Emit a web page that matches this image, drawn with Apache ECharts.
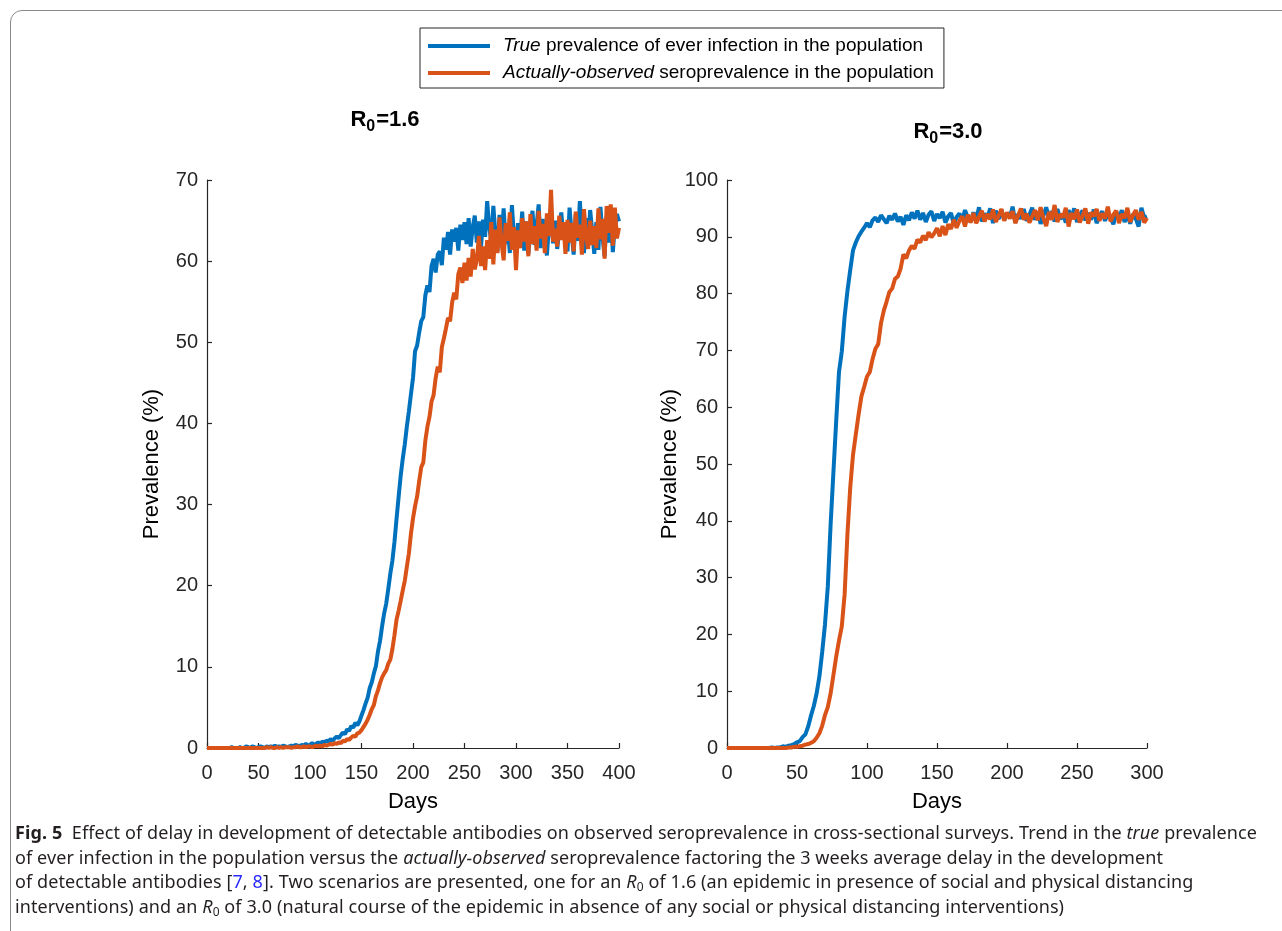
<!DOCTYPE html>
<html>
<head>
<meta charset="utf-8">
<script src="https://cdn.jsdelivr.net/npm/echarts@6/dist/echarts.min.js"></script>
<style>
  html, body { margin: 0; padding: 0; background: #fff; }
  #frame { position: absolute; left: 10px; top: 10px; width: 1320px; height: 980px;
           border: 1.5px solid #8a8a8a; border-radius: 12px; }
  #chart { position: absolute; left: 0; top: 0; width: 1282px; height: 931px; }
  #caption { position: absolute; left: 15px; top: 820px; font-family: 'Noto Sans', sans-serif;
             font-size: 18px; line-height: 24.6px; color: #231f20; letter-spacing: 0.1px; }
  #caption div { white-space: nowrap; }
  #caption a { color: #2a2aff; text-decoration: none; }
  #caption sub { font-size: 12px; vertical-align: -3px; line-height: 0; }
</style>
</head>
<body>
<div id="frame"></div>
<div id="chart"></div>
<div id="caption">
  <div><b>Fig. 5</b>&nbsp; Effect of delay in development of detectable antibodies on observed seroprevalence in cross-sectional surveys. Trend in the <i>true</i> prevalence</div>
  <div>of ever infection in the population versus the <i>actually-observed</i> seroprevalence factoring the 3 weeks average delay in the development</div>
  <div>of detectable antibodies [<a>7</a>, <a>8</a>]. Two scenarios are presented, one for an <i>R</i><sub>0</sub> of 1.6 (an epidemic in presence of social and physical distancing</div>
  <div>interventions) and an <i>R</i><sub>0</sub> of 3.0 (natural course of the epidemic in absence of any social or physical distancing interventions)</div>
</div>
<script>
// ── Data ────────────────────────────────────────────────────────────────
// one value every 2 days
const stepDays = 2;
const seriesNames = [
  'True prevalence of ever infection in the population',
  'Actually-observed seroprevalence in the population'
];

// R0 = 1.6, days 0..400
const trueR16 = [
  0,0,0,0,0,0,0,0,0,0,
  0,0,0.1,0,0,0,0.1,0,0,0.2,
  0.1,0,0.2,0.1,0,0.1,0.2,0.1,0,0.2,
  0.1,0.2,0.1,0.3,0.1,0.2,0.1,0.3,0.2,0.1,
  0.2,0.3,0.2,0.4,0.3,0.2,0.4,0.3,0.5,0.3,
  0.4,0.6,0.4,0.5,0.7,0.5,0.8,0.7,0.9,0.8,
  1.1,0.9,1.2,1.4,1.2,1.6,1.9,1.7,2.3,2.1,
  2.7,2.5,3.1,2.8,3.3,
  4.0,4.7,5.5,6.2,7.4,8.1,9.2,10.1,11.9,13.2,
  15.0,16.6,17.8,19.6,21.5,23.1,25.4,28.2,30.9,33.5,
  35.6,37.4,39.6,41.5,43.6,
  45.6,48.9,49.6,51.2,52.6,53.1,55.8,57.0,56.2,59.4,
  60.3,58.6,60.8,61.2,59.5,62.9,61.4,63.6,60.8,63.9,
  62.4,64.1,61.3,64.5,62.6,
  64.8,62.1,65.3,61.8,64.2,65.6,62.3,64.9,61.7,65.1,
  63.0,67.4,64.2,62.5,66.8,63.3,61.2,65.7,63.0,66.5,
  62.1,64.6,61.0,66.9,63.2,
  60.8,64.7,62.4,66.1,61.3,64.9,60.9,63.8,66.2,62.0,
  64.4,67.0,61.6,65.2,62.7,60.7,64.3,66.4,62.2,65.0,
  61.5,63.9,66.0,62.8,64.6,
  61.2,66.6,63.4,60.8,65.8,62.5,67.4,63.1,61.0,65.3,
  62.0,66.3,63.7,60.9,64.8,61.4,66.7,63.0,60.6,65.5,
  62.3,66.0,61.1,64.4,65.8,
  64.9
];
const observedR16 = [
  0,0,0,0,0,0,0,0,0,0,
  0,0,0,0,0,0,0,0,0,0,
  0,0,0,0,0,0,0,0,0,0.1,
  0,0.1,0,0,0.1,0,0.1,0,0.1,0.1,
  0.1,0,0.1,0.1,0.2,0.1,0.1,0.2,0.1,0.2,
  0.2,0.1,0.2,0.3,0.2,0.3,0.2,0.4,0.3,0.4,
  0.5,0.4,0.6,0.5,0.7,0.6,0.9,0.8,1.1,1.0,
  1.3,1.5,1.4,1.8,1.9,
  2.2,2.6,3.0,3.5,4.1,4.8,5.3,6.4,7.1,8.0,
  8.7,9.2,9.6,10.4,10.9,12.2,13.9,15.8,16.9,18.1,
  19.4,20.6,22.3,24.0,26.4,
  28.3,29.8,31.0,32.9,34.6,35.2,37.9,39.6,40.8,42.7,
  43.5,45.6,47.0,46.3,49.4,50.5,51.7,53.0,52.6,54.9,
  56.1,55.3,58.4,59.2,57.3,
  59.8,57.6,60.4,58.1,61.5,59.0,60.2,63.1,59.4,61.8,
  58.9,62.6,60.3,64.8,59.6,63.9,61.0,65.4,62.2,60.1,
  64.7,62.5,66.0,61.4,64.2,
  58.9,63.8,61.6,65.3,62.4,64.9,60.6,65.8,62.1,64.3,
  61.3,66.2,62.8,64.6,61.0,65.9,63.1,68.8,62.4,64.0,
  61.8,65.6,62.6,64.8,60.9,
  65.1,62.3,64.7,61.2,66.1,62.9,64.5,60.8,66.4,63.2,
  61.5,65.0,62.0,64.3,61.6,66.5,62.7,65.2,60.3,66.8,
  63.5,67.0,61.9,66.6,62.8,
  64.1
];

// R0 = 3.0, days 0..300
const trueR30 = [
  0,0,0,0,0,0,0,0,0,0,
  0,0,0,0,0,0,0.1,0,0.1,0.1,
  0.3,0.2,0.4,0.5,0.7,1.0,1.2,1.9,2.4,3.8,
  5.7,7.4,9.6,12.6,16.9,21.8,28.4,39.3,48.5,57.6,
  66.2,69.8,75.9,80.4,84.1,87.6,89.0,90.1,90.9,91.6,
  92.4,91.7,92.9,93.4,92.6,93.8,93.1,92.4,93.7,93.0,
  94.1,92.7,93.5,92.1,93.8,92.9,94.3,93.2,94.6,93.0,
  94.2,92.6,93.9,94.5,92.8,94.0,93.3,94.4,92.5,93.6,
  94.2,92.2,93.5,94.1,92.9,94.7,93.4,92.6,94.3,93.0,
  95.2,92.7,94.1,93.3,95.0,92.4,94.6,93.1,94.8,92.9,
  94.2,93.4,95.3,92.5,94.0,93.2,94.9,92.8,93.9,95.1,
  93.0,94.4,92.3,93.7,95.2,93.3,94.5,92.7,94.9,93.1,
  94.0,92.5,94.7,93.2,95.0,92.6,93.8,94.6,92.9,94.2,
  93.0,94.8,92.4,93.6,94.5,92.8,94.1,93.3,92.2,94.4,
  93.1,94.7,92.6,93.9,92.3,94.0,93.2,91.8,95.1,93.4,
  93.6
];
const observedR30 = [
  0,0,0,0,0,0,0,0,0,0,
  0,0,0,0,0,0,0,0,0,0,
  0,0,0.1,0.1,0.2,0.2,0.3,0.4,0.6,0.7,
  0.9,1.2,1.8,2.6,3.9,5.8,7.2,9.6,12.8,16.1,
  18.9,21.4,27.0,37.5,45.8,51.6,55.2,58.7,61.9,63.6,
  65.4,66.2,68.5,70.3,71.1,74.8,77.0,78.6,80.3,80.9,
  82.6,83.0,84.4,86.9,86.2,87.6,88.4,87.9,89.5,89.0,
  90.2,89.4,90.8,89.9,90.6,91.5,90.1,91.9,90.3,92.2,
  91.4,93.0,91.6,92.8,93.6,91.8,93.9,92.5,94.2,92.4,
  93.5,94.6,92.7,94.0,93.1,94.8,92.6,93.7,94.9,92.8,
  94.3,93.2,94.5,92.4,93.8,95.0,93.0,94.1,92.5,93.6,
  94.7,92.9,95.2,93.3,91.9,94.4,93.0,95.6,92.6,94.0,
  93.4,95.1,91.8,94.2,93.1,94.8,92.5,93.7,95.0,92.3,
  94.3,93.6,94.9,92.8,94.1,93.2,95.3,92.7,93.9,94.6,
  92.4,94.0,93.3,95.1,92.6,93.8,94.7,93.0,94.4,92.5,
  93.3
];

// ── Style ───────────────────────────────────────────────────────────────
const fontFamily = "'Liberation Sans', Arial, sans-serif";
const blue = '#0072BD';
const orange = '#D95319';
const axisColor = '#262626';
const lineWidth = 4;

const toPairs = (arr) => arr.map((v, i) => [i * stepDays, v]);

const chart = echarts.init(document.getElementById('chart'), null, { renderer: 'canvas' });

function xAxisFor(gridIndex, max) {
  return {
    gridIndex, type: 'value', min: 0, max, interval: 50,
    name: 'Days', nameLocation: 'middle', nameGap: 43,
    nameTextStyle: { fontFamily, fontSize: 22, color: '#000' },
    axisLine: { show: true, onZero: false, lineStyle: { color: axisColor, width: 1.2 } },
    axisTick: { show: true, inside: true, length: 5, lineStyle: { color: axisColor, width: 1.2 } },
    axisLabel: { fontFamily, fontSize: 20, color: axisColor, margin: 15 },
    splitLine: { show: false }
  };
}
function yAxisFor(gridIndex, max, gap) {
  return {
    gridIndex, type: 'value', min: 0, max, interval: 10,
    name: 'Prevalence (%)', nameLocation: 'middle', nameGap: gap,
    nameTextStyle: { fontFamily, fontSize: 22, color: '#000' },
    axisLine: { show: true, onZero: false, lineStyle: { color: axisColor, width: 1.2 } },
    axisTick: { show: true, inside: true, length: 5, lineStyle: { color: axisColor, width: 1.2 } },
    axisLabel: { fontFamily, fontSize: 20, color: axisColor, margin: 9 },
    splitLine: { show: false }
  };
}
function lineSeries(name, data, color, idx) {
  return {
    name, type: 'line', data: toPairs(data), xAxisIndex: idx, yAxisIndex: idx,
    symbol: 'none', lineStyle: { width: lineWidth, color }, itemStyle: { color },
    silent: true
  };
}
const titleRich = {
  b: { fontFamily, fontSize: 22, fontWeight: 'bold', color: '#000', lineHeight: 26 },
  s: { fontFamily, fontSize: 16, fontWeight: 'bold', color: '#000', lineHeight: 26, padding: [14, 1, 0, 0] }
};

chart.setOption({
  animation: false,
  backgroundColor: 'transparent',
  title: [
    { text: '{b|R}{s|0}{b|=1.6}', left: 380, top: 102, textAlign: 'center',
      textStyle: { rich: titleRich } },
    { text: '{b|R}{s|0}{b|=3.0}', left: 943, top: 114, textAlign: 'center',
      textStyle: { rich: titleRich } }
  ],
  legend: {
    data: seriesNames,
    orient: 'vertical',
    left: 420, top: 28,
    backgroundColor: '#fff',
    borderColor: '#262626', borderWidth: 1,
    padding: [8, 10, 5, 8],
    itemWidth: 62, itemHeight: 4, itemGap: 7,
    icon: 'rect',
    formatter: (name) => name === seriesNames[0]
      ? '{i|True} prevalence of ever infection in the population'
      : '{i|Actually-observed} seroprevalence in the population',
    textStyle: {
      fontFamily, fontSize: 19, color: '#000', lineHeight: 20, padding: [0, 0, 0, 8],
      rich: { i: { fontFamily, fontSize: 19, fontStyle: 'italic', color: '#000' } }
    }
  },
  grid: [
    { left: 207, right: 663, top: 180, bottom: 183 },
    { left: 727, right: 135, top: 180, bottom: 183 }
  ],
  xAxis: [xAxisFor(0, 400), xAxisFor(1, 300)],
  yAxis: [yAxisFor(0, 70, 44), yAxisFor(1, 100, 38)],
  series: [
    lineSeries(seriesNames[0], trueR16, blue, 0),
    lineSeries(seriesNames[1], observedR16, orange, 0),
    lineSeries(seriesNames[0], trueR30, blue, 1),
    lineSeries(seriesNames[1], observedR30, orange, 1)
  ]
});
</script>
</body>
</html>
